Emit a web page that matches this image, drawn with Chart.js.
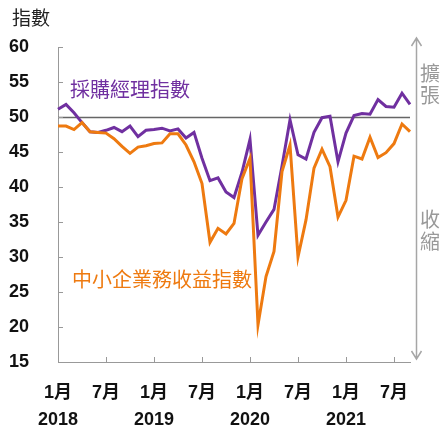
<!DOCTYPE html>
<html>
<head>
<meta charset="utf-8">
<script src="https://cdn.jsdelivr.net/npm/chart.js@4.4.1/dist/chart.umd.min.js"></script>
<style>
html, body { margin: 0; padding: 0; background: #fff; }
#wrap { width: 440px; height: 426px; position: relative; }
</style>
</head>
<body>
<div id="wrap"><canvas id="chartCanvas"></canvas></div>
<script>
"use strict";

// months Jan 2018 .. Sep 2021
const years = [2018, 2019, 2020, 2021];
const lastMonth = 9; // Sep 2021
const months = [];
years.forEach(function (yr) {
    for (let m = 1; m <= 12; m++) {
        if (yr === 2021 && m > lastMonth) break;
        months.push(yr + '-' + m);
    }
});

const pmi = [51.1, 51.8, 50.6, 49.2, 47.9, 47.8, 48.1, 48.5, 47.9, 48.7, 47.2, 48.1,
             48.2, 48.4, 48.0, 48.3, 47.0, 47.8, 44.1, 40.9, 41.3, 39.3, 38.5, 42.1,
             46.8, 33.1, 35.0, 36.8, 43.0, 49.6, 44.6, 44.0, 47.8, 49.9, 50.1, 43.6,
             47.7, 50.2, 50.5, 50.4, 52.5, 51.5, 51.4, 53.4, 51.8];

const smeReceipts = [48.7, 48.7, 48.2, 49.2, 47.9, 47.8, 47.7, 46.9, 45.8, 44.8, 45.7, 45.9,
                     46.2, 46.3, 47.6, 47.6, 46.0, 43.6, 40.5, 32.1, 34.1, 33.3, 34.8, 41.2,
                     44.1, 20.3, 27.2, 30.8, 42.2, 46.0, 30.0, 35.3, 42.7, 45.4, 42.9, 35.7,
                     38.1, 44.4, 44.0, 47.1, 44.2, 44.9, 46.2, 49.0, 47.9];

const monthTicks = { 1: '1月', 7: '7月' };
const yMin = 15, yMax = 60, yStep = 5;
const baseline = 50;

const purple = '#7030a0';
const orange = '#ee7a10';
const fontFamily = "'Liberation Sans', 'Noto Sans CJK TC', sans-serif";
const cjkFont = "'Noto Sans CJK TC', sans-serif";

const decorations = {
    id: 'decorations',
    beforeDatasetsDraw(chart) {
        const { ctx, chartArea: a, scales: { x, y } } = chart;
        ctx.save();
        // 50 reference line
        const y50 = Math.round(y.getPixelForValue(baseline)) + 0.5;
        ctx.strokeStyle = '#666';
        ctx.lineWidth = 1.3;
        ctx.beginPath();
        ctx.moveTo(a.left, y50);
        ctx.lineTo(a.right, y50);
        ctx.stroke();
        // inward tick marks
        ctx.strokeStyle = '#999';
        ctx.lineWidth = 1;
        for (let v = yMin; v <= yMax; v += yStep) {
            const py = Math.round(y.getPixelForValue(v)) + 0.5;
            ctx.beginPath();
            ctx.moveTo(a.left, py);
            ctx.lineTo(a.left + 5, py);
            ctx.stroke();
        }
        months.forEach(function (lbl, i) {
            const m = +lbl.split('-')[1];
            if (i > 0 && monthTicks[m]) {
                const px = Math.round(x.getPixelForValue(i)) + 0.5;
                ctx.beginPath();
                ctx.moveTo(px, a.bottom);
                ctx.lineTo(px, a.bottom - 5);
                ctx.stroke();
            }
        });
        ctx.restore();
    },
    afterDraw(chart) {
        const { ctx, chartArea: a } = chart;
        ctx.save();
        // title
        ctx.fillStyle = '#222';
        ctx.font = '19px ' + cjkFont;
        ctx.textBaseline = 'middle';
        ctx.textAlign = 'left';
        ctx.fillText('指數', 12, 18);
        // series labels
        ctx.font = '20px ' + cjkFont;
        ctx.fillStyle = purple;
        ctx.fillText('採購經理指數', 70, 89);
        ctx.fillStyle = orange;
        ctx.fillText('中小企業務收益指數', 72, 279);
        // expansion / contraction arrow
        const ax = a.right + 6.5;
        ctx.strokeStyle = '#a6a6a6';
        ctx.lineWidth = 1.5;
        ctx.beginPath();
        ctx.moveTo(ax, 38);
        ctx.lineTo(ax, 359);
        ctx.moveTo(ax - 5, 46);
        ctx.lineTo(ax, 38);
        ctx.lineTo(ax + 5, 46);
        ctx.moveTo(ax - 5, 351);
        ctx.lineTo(ax, 359);
        ctx.lineTo(ax + 5, 351);
        ctx.stroke();
        ctx.fillStyle = '#999';
        ctx.font = '20px ' + cjkFont;
        ctx.textAlign = 'center';
        ctx.fillText('擴', 430, 73);
        ctx.fillText('張', 430, 95);
        ctx.fillText('收', 430, 219);
        ctx.fillText('縮', 430, 241);
        ctx.restore();
    }
};

const data = {
    labels: months,
    datasets: [{
        label: '中小企業務收益指數',
        data: smeReceipts,
        borderColor: orange,
        borderWidth: 3,
        pointRadius: 0,
        tension: 0,
        fill: false
    },
    {
        label: '採購經理指數',
        data: pmi,
        borderColor: purple,
        borderWidth: 3,
        pointRadius: 0,
        tension: 0,
        fill: false
    }]
};

const config = {
    type: 'line',
    data: data,
    options: {
        responsive: true,
        maintainAspectRatio: false,
        animation: false,
        layout: { padding: { top: 47, right: 30, left: 0, bottom: 0 } },
        plugins: { legend: { display: false }, tooltip: { enabled: false } },
        scales: {
            x: {
                type: 'category',
                offset: false,
                grid: { display: false },
                border: { display: true, color: '#999', width: 1 },
                afterFit(scale) { scale.height = 64; },
                ticks: {
                    autoSkip: false,
                    maxRotation: 0,
                    padding: 10,
                    color: '#111',
                    font: { family: fontFamily, size: 18, weight: 'bold', lineHeight: 1.5 },
                    callback(val, idx) {
                        const parts = months[idx].split('-');
                        const m = +parts[1];
                        if (m === 1) return [monthTicks[1], parts[0]];
                        if (m === 7) return monthTicks[7];
                        return '';
                    }
                }
            },
            y: {
                min: yMin,
                max: yMax,
                grid: { display: false },
                border: { display: true, color: '#999', width: 1 },
                afterFit(scale) { scale.width = 58; },
                ticks: {
                    stepSize: yStep,
                    padding: 21,
                    color: '#111',
                    font: { family: fontFamily, size: 18, weight: 'bold' }
                }
            }
        }
    },
    plugins: [decorations]
};

new Chart(document.getElementById('chartCanvas'), config);
</script>
</body>
</html>
